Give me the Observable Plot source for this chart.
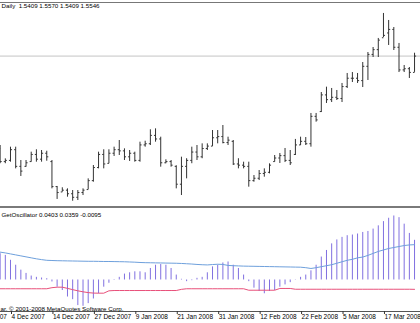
<!DOCTYPE html>
<html><head><meta charset="utf-8">
<script src="https://cdn.jsdelivr.net/npm/d3@7"></script>
<script src="https://cdn.jsdelivr.net/npm/@observablehq/plot@0.6"></script>
<style>
html,body{margin:0;padding:0;background:#fff;}
#chart{position:relative;width:420px;height:323px;overflow:hidden;background:#fff;}
#chart svg{position:absolute;left:0;}
#sep{position:absolute;left:0;top:206px;width:420px;height:2px;background:#7a7a7a;}
</style></head><body><div id="chart"></div>
<script>
// Daily bars, 30 Nov 2007 .. 25 Mar 2008 (bar index 0..80)
const opens = [1.4770,1.4660,1.4670,1.4760,1.4620,1.4620,1.4660,1.4720,1.4680,1.4730,
1.4660,1.4450,1.4405,1.4420,1.4390,1.4360,1.4400,1.4425,1.4500,1.4610,
1.4720,1.4645,1.4730,1.4760,1.4750,1.4700,1.4730,1.4670,1.4800,1.4810,
1.4880,1.4850,1.4650,1.4660,1.4620,1.4470,1.4620,1.4670,1.4740,1.4700,
1.4770,1.4790,1.4860,1.4870,1.4820,1.4830,1.4640,1.4630,1.4620,1.4500,
1.4520,1.4560,1.4570,1.4660,1.4690,1.4710,1.4670,1.4720,1.4800,1.4830,
1.4810,1.5040,1.5080,1.5220,1.5180,1.5200,1.5190,1.5290,1.5360,1.5360,
1.5340,1.5460,1.5560,1.5600,1.5700,1.5740,1.5770,1.5620,1.5430,1.5440,
1.5409];
const highs = [1.4795,1.4683,1.4781,1.4781,1.4669,1.4669,1.4739,1.4759,1.4753,1.4747,
1.4669,1.4451,1.4440,1.4431,1.4417,1.4417,1.4431,1.4515,1.4627,1.4739,
1.4759,1.4759,1.4781,1.4837,1.4767,1.4753,1.4739,1.4823,1.4831,1.4927,
1.4935,1.4865,1.4675,1.4669,1.4625,1.4697,1.4684,1.4781,1.4795,1.4809,
1.4809,1.4921,1.4921,1.4963,1.4865,1.4837,1.4684,1.4655,1.4655,1.4543,
1.4585,1.4599,1.4641,1.4711,1.4728,1.4770,1.4753,1.4846,1.4865,1.4862,
1.5064,1.5064,1.5240,1.5285,1.5274,1.5257,1.5316,1.5400,1.5408,1.5400,
1.5492,1.5576,1.5618,1.5694,1.5904,1.5845,1.5786,1.5652,1.5467,1.5450,
1.5570];
const lows = [1.4642,1.4642,1.4655,1.4599,1.4535,1.4613,1.4655,1.4655,1.4655,1.4663,
1.4431,1.4342,1.4403,1.4361,1.4327,1.4333,1.4375,1.4423,1.4487,1.4599,
1.4599,1.4642,1.4703,1.4711,1.4669,1.4661,1.4655,1.4655,1.4781,1.4795,
1.4823,1.4613,1.4642,1.4613,1.4431,1.4375,1.4515,1.4642,1.4669,1.4684,
1.4753,1.4787,1.4809,1.4809,1.4795,1.4627,1.4599,1.4599,1.4445,1.4487,
1.4501,1.4529,1.4557,1.4655,1.4644,1.4652,1.4627,1.4711,1.4795,1.4795,
1.4781,1.4991,1.5072,1.5148,1.5156,1.5173,1.5156,1.5274,1.5324,1.5316,
1.5282,1.5341,1.5534,1.5534,1.5702,1.5635,1.5593,1.5408,1.5408,1.5358,
1.5409];
const closes = [1.4660,1.4670,1.4760,1.4620,1.4580,1.4650,1.4720,1.4680,1.4730,1.4700,
1.4450,1.4400,1.4420,1.4390,1.4360,1.4400,1.4420,1.4500,1.4610,1.4720,
1.4640,1.4730,1.4760,1.4750,1.4700,1.4730,1.4670,1.4800,1.4810,1.4880,
1.4850,1.4650,1.4660,1.4630,1.4470,1.4620,1.4670,1.4740,1.4700,1.4770,
1.4790,1.4860,1.4870,1.4820,1.4840,1.4640,1.4630,1.4620,1.4500,1.4520,
1.4560,1.4570,1.4630,1.4690,1.4710,1.4670,1.4650,1.4800,1.4830,1.4810,
1.5040,1.5010,1.5220,1.5180,1.5200,1.5190,1.5290,1.5360,1.5360,1.5340,
1.5460,1.5560,1.5600,1.5680,1.5720,1.5770,1.5620,1.5430,1.5440,1.5409,
1.5546];
// Oscillator window
const histogram = [0.0267,0.0250,0.0200,0.0150,0.0100,0.0067,0.0040,0.0027,0.0020,0.0013,
-0.0020,-0.0073,-0.0107,-0.0173,-0.0200,-0.0260,-0.0267,-0.0240,-0.0193,-0.0140,
-0.0073,-0.0033,0.0005,0.0027,0.0060,0.0073,0.0083,0.0083,0.0073,0.0117,
0.0150,0.0157,0.0150,0.0117,0.0050,0.0007,-0.0017,-0.0007,0.0017,0.0027,
0.0073,0.0133,0.0150,0.0173,0.0183,0.0150,0.0117,0.0050,-0.0017,-0.0083,
-0.0117,-0.0140,-0.0117,-0.0107,-0.0073,-0.0050,-0.0027,0.0003,0.0027,0.0050,
0.0093,0.0150,0.0233,0.0300,0.0367,0.0407,0.0433,0.0450,0.0457,0.0467,
0.0483,0.0493,0.0517,0.0550,0.0593,0.0627,0.0650,0.0633,0.0567,0.0473,
0.0403];
const signal = [0.0283,0.0275,0.0265,0.0255,0.0245,0.0235,0.0225,0.0215,0.0207,0.0200,
0.0198,0.0196,0.0195,0.0194,0.0193,0.0192,0.0191,0.0190,0.0190,0.0189,
0.0188,0.0188,0.0187,0.0186,0.0185,0.0183,0.0181,0.0178,0.0176,0.0175,
0.0174,0.0173,0.0172,0.0171,0.0170,0.0168,0.0165,0.0162,0.0158,0.0155,
0.0153,0.0157,0.0160,0.0158,0.0148,0.0145,0.0143,0.0141,0.0140,0.0139,
0.0138,0.0137,0.0136,0.0135,0.0134,0.0133,0.0132,0.0131,0.0130,0.0125,
0.0117,0.0125,0.0135,0.0145,0.0155,0.0170,0.0185,0.0200,0.0210,0.0225,
0.0233,0.0250,0.0270,0.0290,0.0305,0.0320,0.0330,0.0340,0.0350,0.0356,
0.0359];
const slowLine = [-0.0089,-0.0089,-0.0089,-0.0089,-0.0089,-0.0089,-0.0089,-0.0089,-0.0089,-0.0089,
-0.0078,-0.0073,-0.0073,-0.0085,-0.0098,-0.0110,-0.0120,-0.0128,-0.0133,-0.0134,
-0.0134,-0.0110,-0.0107,-0.0107,-0.0107,-0.0107,-0.0107,-0.0107,-0.0107,-0.0107,
-0.0107,-0.0107,-0.0107,-0.0107,-0.0107,-0.0095,-0.0089,-0.0089,-0.0089,-0.0089,
-0.0089,-0.0089,-0.0089,-0.0089,-0.0089,-0.0089,-0.0089,-0.0089,-0.0104,-0.0104,
-0.0104,-0.0104,-0.0104,-0.0104,-0.0086,-0.0086,-0.0086,-0.0094,-0.0094,-0.0094,
-0.0094,-0.0094,-0.0094,-0.0094,-0.0094,-0.0094,-0.0094,-0.0094,-0.0094,-0.0094,
-0.0094,-0.0094,-0.0094,-0.0094,-0.0094,-0.0094,-0.0094,-0.0094,-0.0094,-0.0094,
-0.0095];
// Time axis labels (bar index of each label)
const tickBars = [-6,2,10,18,26,34,42,50,58,66,74];
const tickLabels = ["22 Nov 2007","4 Dec 2007","14 Dec 2007","27 Dec 2007","9 Jan 2008","21 Jan 2008","31 Jan 2008","12 Feb 2008","22 Feb 2008","5 Mar 2008","17 Mar 2008"];
const timeframe = "Daily";
const indicatorName = "GetOscillator";
const copyright = "ar. © 2001-2008 MetaQuotes Software Corp.";

const xDomain = [0.07, 81.15];
const priceDomain = [1.4266, 1.5996];
const oscDomain = [-0.032, 0.0716];
const FONT = "'Liberation Sans', Arial, sans-serif";

const bars = opens.map((o, i) => ({i, o, h: highs[i], l: lows[i], c: closes[i]}));
const osc = histogram.map((h, i) => ({i, h, s: signal[i], r: slowLine[i]}));
const lastBar = bars[bars.length - 1];
const f4 = v => v.toFixed(4);
const header = `${timeframe}  ${f4(lastBar.o)} ${f4(lastBar.h)} ${f4(lastBar.l)} ${f4(lastBar.c)}`;
const lastO = osc[osc.length - 1];
const oscHeader = `${indicatorName} ${f4(lastO.h)} ${f4(lastO.s)} ${f4(lastO.r)}`;
const labelMap = new Map(tickBars.map((b, k) => [b, tickLabels[k]]));

const plotStyle = {background: "transparent", fontFamily: FONT, fontSize: "6px", color: "#000", overflow: "visible"};
const barColor = "#333";

const priceChart = Plot.plot({
  width: 420, height: 209,
  marginLeft: 0, marginRight: 0, marginTop: 2, marginBottom: 1,
  x: {domain: xDomain, axis: null},
  y: {domain: priceDomain, axis: null},
  style: plotStyle,
  marks: [
    Plot.ruleY([priceDomain[1]], {stroke: "#777", strokeWidth: 1}),
    Plot.ruleY([lastBar.c], {stroke: "#c4c4c4", strokeWidth: 1}),
    Plot.ruleX(bars, {x: "i", y1: "l", y2: "h", stroke: barColor, strokeWidth: 1}),
    Plot.link(bars, {x1: d => d.i - 0.3, x2: "i", y1: "o", y2: "o", stroke: barColor, strokeWidth: 1}),
    Plot.link(bars, {x1: "i", x2: d => d.i + 0.3, y1: "c", y2: "c", stroke: barColor, strokeWidth: 1}),
    Plot.text([header], {frameAnchor: "top-left", textAnchor: "start", lineAnchor: "top", dx: 1, dy: 1, fontSize: 6.2, fill: "#000"})
  ]
});
priceChart.style.top = "0px";

const oscChart = Plot.plot({
  width: 420, height: 116,
  marginLeft: 0, marginRight: 0, marginTop: 2, marginBottom: 12,
  x: {domain: xDomain},
  y: {domain: oscDomain, axis: null},
  style: plotStyle,
  marks: [
    Plot.ruleY([oscDomain[0]], {stroke: "#555", strokeWidth: 1}),
    Plot.ruleX(osc, {x: "i", y1: 0, y2: "h", stroke: "#8070e0", strokeWidth: 1}),
    Plot.line(osc, {x: "i", y: "s", stroke: "#6ea0dc", strokeWidth: 1}),
    Plot.line(osc, {x: "i", y: "r", stroke: "#e8507a", strokeWidth: 1}),
    Plot.axisX(tickBars, {anchor: "bottom", tickFormat: d => labelMap.get(d), tickSize: 3, tickPadding: 0, textAnchor: "start", dx: 1, fontSize: 6.5, stroke: "#333", fill: "#000", label: null}),
    Plot.text([oscHeader], {frameAnchor: "top-left", textAnchor: "start", lineAnchor: "top", dx: 1, dy: 3, fontSize: 6.2, fill: "#000"}),
    Plot.text([copyright], {frameAnchor: "bottom-left", textAnchor: "start", lineAnchor: "bottom", dx: 0, dy: -1, fontSize: 6.2, fill: "#000"})
  ]
});
oscChart.style.top = "207px";

const chart = document.getElementById("chart");
chart.appendChild(priceChart);
chart.appendChild(oscChart);
const sep = document.createElement("div");
sep.id = "sep";
chart.appendChild(sep);
</script>
</body></html>
